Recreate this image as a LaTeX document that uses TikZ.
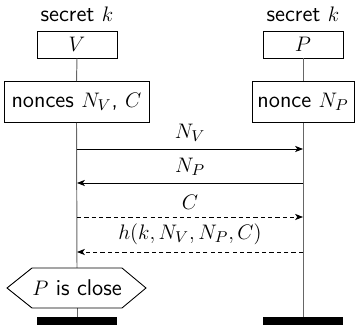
\documentclass[tikz,border=0pt]{standalone}
\usetikzlibrary{arrows.meta}
\begin{document}
\begin{tikzpicture}[x=0.5714pt,y=-0.5714pt,
  font=\fontsize{13}{15.5}\selectfont\sffamily,
  inst/.style={draw,line width=0.5pt,minimum width=45.7pt,minimum height=15.4pt,inner sep=0pt},
  act/.style={draw,line width=0.5pt,minimum height=23.4pt,inner sep=0pt},
  life/.style={draw=black!60,line width=0.55pt},
  msg/.style={line width=0.45pt,-{Stealth[length=4.5pt,width=3.5pt,inset=1.2pt]}},
  dsh/.style={dash pattern=on 2.4pt off 1.8pt},
  lbl/.style={inner sep=0pt},
  bar/.style={fill=black,draw=none,minimum width=45.7pt,minimum height=4.6pt,inner sep=0pt}]
\useasboundingbox (0,0) rectangle (355,333);
% instance heads
\node[lbl] (sv) at (77,14) {secret $k$};
\node[lbl] (sp) at (303,14) {secret $k$};
\node[inst] (V) at (77,44.5) {$V$};
\node[inst] (P) at (303,44.5) {$P$};
% actions
\node[act,minimum width=82.9pt] (av) at (76.5,102) {nonces $N_V$, $C$};
\node[act,minimum width=58.3pt] (ap) at (303,102) {nonce $N_P$};
% message end points on the lifelines
\coordinate (v1) at (77,149);
\coordinate (v2) at (77,183);
\coordinate (v3) at (77,217);
\coordinate (v4) at (77,252);
\coordinate (p1) at (303,149);
\coordinate (p2) at (303,183);
\coordinate (p3) at (303,217);
\coordinate (p4) at (303,252);
% instance ends
\node[bar] (ev) at (77,321) {};
\node[bar] (ep) at (303,321) {};
% condition
\coordinate (c1) at (7,288);
\coordinate (c2) at (32,268);
\coordinate (c3) at (122,268);
\coordinate (c4) at (146,288);
\coordinate (c5) at (122,308);
\coordinate (c6) at (32,308);
\node[lbl] (cond) at (77,288) {$P$ is close};
% lifelines
\draw[life] (V.south) -- (av.north);
\draw[life] (P.south) -- (ap.north);
\draw[life] (av.south) -- (77,268);
\draw[life] (77,308) -- (ev.north);
\draw[life] (ap.south) -- (ep.north);
\draw[line width=0.5pt] (c1) -- (c2) -- (c3) -- (c4) -- (c5) -- (c6) -- cycle;
% messages
\draw[msg] (v1) -- node[lbl,above=4pt] {$N_V$} (p1);
\draw[msg] (p2) -- node[lbl,above=4pt] {$N_P$} (v2);
\draw[msg,dsh] (v3) -- node[lbl,above=4pt] {$C$} (p3);
\draw[msg,dsh] (p4) -- node[lbl,above=4pt] {$h(k,N_V,N_P,C)$} (v4);
\end{tikzpicture}
\end{document}
